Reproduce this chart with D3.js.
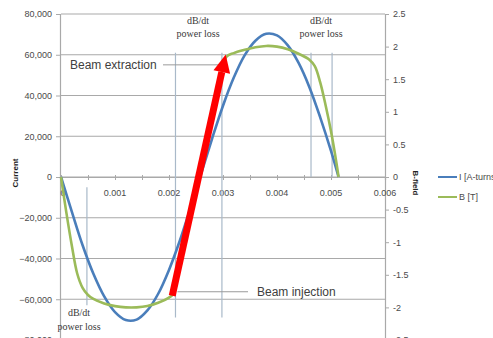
<!DOCTYPE html>
<html>
<head>
<meta charset="utf-8">
<script src="https://cdn.jsdelivr.net/npm/d3@7"></script>
<style>
  html, body { margin: 0; padding: 0; background: #fff; }
  svg { display: block; }
  text { font-family: "Liberation Sans", Arial, sans-serif; }
  text.serif { font-family: "Liberation Serif", "DejaVu Serif", serif; }
</style>
</head>
<body>
<svg id="chart" width="493" height="338"></svg>
<script>
// Magnet cycle: coil current I [A-turns] (left axis) and field B [T] (right axis) vs time [s]
const timeI = [0, 0.0002, 0.0004, 0.0006, 0.0008, 0.0010, 0.0012, 0.0014, 0.0016, 0.0018,
               0.0020, 0.0022, 0.0024, 0.0026, 0.0028, 0.0030, 0.0032, 0.0034, 0.0036,
               0.0038, 0.0040, 0.0042, 0.0044, 0.0046, 0.0048, 0.0050, 0.00514];
const current = [0, -17000, -33500, -47500, -58600, -66300, -70200, -70000, -65500, -57300,
                 -45600, -31300, -15000, 2000, 19000, 35000, 48800, 59700, 66900,
                 70300, 69500, 64600, 56000, 44100, 29300, 12800, 0];

const timeB = [0, 0.0001, 0.0002, 0.0003, 0.0004, 0.0005, 0.0006, 0.0008, 0.0010, 0.0012,
               0.0014, 0.0016, 0.0018, 0.0020, 0.00207, 0.0023, 0.0026, 0.0029, 0.00306,
               0.0032, 0.0034, 0.0036, 0.0038, 0.0040, 0.0042, 0.0044, 0.0046, 0.0047,
               0.0048, 0.0049, 0.0050, 0.0051, 0.00514];
const field = [0, -0.55, -1.05, -1.48, -1.70, -1.81, -1.87, -1.94, -1.98, -2.0,
               -2.0, -1.98, -1.93, -1.85, -1.8, -0.95, 0.15, 1.25, 1.84,
               1.9, 1.95, 1.99, 2.01, 2.0, 1.96, 1.89, 1.8, 1.7,
               1.45, 1.1, 0.7, 0.22, 0];

const xTicks = [0, 0.001, 0.002, 0.003, 0.004, 0.005, 0.006];
const xTickLabels = ["0", "0.001", "0.002", "0.003", "0.004", "0.005", "0.006"];
const iTicks = [-80000, -60000, -40000, -20000, 0, 20000, 40000, 60000, 80000];
const bTicks = [-2.5, -2, -1.5, -1, -0.5, 0, 0.5, 1, 1.5, 2, 2.5];

// Annotated instants: power-loss markers, injection and extraction
const lossMarksLow = [0.00048];                 // lines below the time axis
const lossMarksFull = [0.00212, 0.00298];        // full-height lines
const lossMarksHigh = [0.00463, 0.00502];        // lines above the time axis
const injection = { t: 0.00206, b: -1.82 };
const extraction = { t: 0.00305, b: 1.88 };

const svg = d3.select("#chart");
const x = d3.scaleLinear().domain([0, 0.006]).range([61, 385]);
const yI = d3.scaleLinear().domain([-80000, 80000]).range([340, 14]);
const yB = d3.scaleLinear().domain([-2.5, 2.5]).range([340, 14]);

const gridColor = "#a9a9a9";
const textColor = "#4a4a4a";
const markColor = "#a9b9c9";

// horizontal gridlines
svg.append("g").selectAll("line").data(iTicks).join("line")
  .attr("x1", x(0)).attr("x2", x(0.006))
  .attr("y1", d => yI(d)).attr("y2", d => yI(d))
  .attr("stroke", gridColor).attr("stroke-width", 1.2);

// left axis
const left = svg.append("g").attr("transform", `translate(${x(0) - 1},0)`)
  .call(d3.axisLeft(yI).tickValues(iTicks).tickSize(4).tickPadding(4)
    .tickFormat(d3.format(",")));
left.select(".domain").attr("stroke", gridColor).attr("stroke-width", 1.2);
left.selectAll(".tick line").attr("stroke", gridColor);
left.selectAll("text").attr("fill", textColor).style("font-size", "9px");

// right axis
const right = svg.append("g").attr("transform", `translate(${x(0.006)},0)`)
  .call(d3.axisRight(yB).tickValues(bTicks).tickSize(4).tickPadding(4)
    .tickFormat(d => String(d)));
right.select(".domain").attr("stroke", gridColor).attr("stroke-width", 1.2);
right.selectAll(".tick line").attr("stroke", gridColor);
right.selectAll("text").attr("fill", textColor).style("font-size", "9px");

// time axis through zero current
const bottom = svg.append("g").attr("transform", `translate(0,${yI(0)})`)
  .call(d3.axisBottom(x).tickValues(d3.range(0, 0.00601, 0.0005)).tickSize(3)
    .tickFormat(""));
bottom.select(".domain").attr("stroke", gridColor).attr("stroke-width", 1.2);
bottom.selectAll(".tick line").attr("stroke", gridColor).attr("y1", -2);
svg.append("g").selectAll("text").data(xTicks).join("text")
  .attr("x", (d, i) => x(d) + (i === 0 ? 2 : 0))
  .attr("y", yI(0) + 19)
  .attr("text-anchor", "middle")
  .attr("fill", textColor).style("font-size", "9px")
  .text((d, i) => xTickLabels[i]);

// axis titles
svg.append("text")
  .attr("transform", `translate(18,${yI(0) - 4}) rotate(-90)`)
  .attr("text-anchor", "middle").attr("fill", "#222")
  .style("font-size", "8px").style("font-weight", "bold")
  .text("Current");
svg.append("text")
  .attr("transform", `translate(413,${yB(0) + 6}) rotate(90)`)
  .attr("text-anchor", "middle").attr("fill", "#222")
  .style("font-size", "8px").style("font-weight", "bold")
  .text("B-field");

// dB/dt power-loss marker lines
const marks = svg.append("g").attr("stroke", markColor).attr("stroke-width", 1.2);
marks.selectAll(".low").data(lossMarksLow).join("line")
  .attr("x1", d => x(d)).attr("x2", d => x(d))
  .attr("y1", yI(-5000)).attr("y2", yI(-63000));
marks.selectAll(".full").data(lossMarksFull).join("line")
  .attr("x1", d => x(d)).attr("x2", d => x(d))
  .attr("y1", yI(61000)).attr("y2", yI(-69000));
marks.selectAll(".high").data(lossMarksHigh).join("line")
  .attr("x1", d => x(d)).attr("x2", d => x(d))
  .attr("y1", yI(61000)).attr("y2", yI(0));

// leader lines for injection / extraction
svg.append("line")
  .attr("x1", 163).attr("x2", x(lossMarksFull[1]))
  .attr("y1", yB(1.72)).attr("y2", yB(1.72))
  .attr("stroke", "#9a9a9a").attr("stroke-width", 1);
svg.append("line")
  .attr("x1", x(lossMarksFull[0]) + 2).attr("x2", 248)
  .attr("y1", yB(-1.76)).attr("y2", yB(-1.76))
  .attr("stroke", "#9a9a9a").attr("stroke-width", 1);

// series
const lineI = d3.line().x((d, i) => x(timeI[i])).y(d => yI(d)).curve(d3.curveCatmullRom.alpha(0.5));
const lineB = d3.line().x((d, i) => x(timeB[i])).y(d => yB(d)).curve(d3.curveCatmullRom.alpha(0.5));
svg.append("path").attr("d", lineI(current))
  .attr("fill", "none").attr("stroke", "#4a7ebb").attr("stroke-width", 2.6);
svg.append("path").attr("d", lineB(field))
  .attr("fill", "none").attr("stroke", "#9bbb59").attr("stroke-width", 2.6);

// ramp arrow from injection to extraction
const ax0 = x(injection.t), ay0 = yB(injection.b);
const ax1 = x(extraction.t), ay1 = yB(extraction.b);
const ang = Math.atan2(ay1 - ay0, ax1 - ax0);
const headLen = 18, headHalf = 8.5;
const bx = ax1 - headLen * Math.cos(ang), by = ay1 - headLen * Math.sin(ang);
svg.append("line")
  .attr("x1", ax0).attr("y1", ay0).attr("x2", bx).attr("y2", by)
  .attr("stroke", "#ff0000").attr("stroke-width", 7);
svg.append("path")
  .attr("d", `M${ax1},${ay1}L${bx + headHalf * Math.sin(ang)},${by - headHalf * Math.cos(ang)}` +
             `L${bx - headHalf * Math.sin(ang)},${by + headHalf * Math.cos(ang)}Z`)
  .attr("fill", "#ff0000");

// annotation texts
function lossLabel(cx, y1, y2) {
  const g = svg.append("g").attr("fill", "#3a3a3a").attr("text-anchor", "middle");
  g.append("text").attr("class", "serif").attr("x", cx).attr("y", y1)
    .style("font-size", "10px").text("dB/dt");
  g.append("text").attr("class", "serif").attr("x", cx).attr("y", y2)
    .style("font-size", "10px").text("power loss");
}
lossLabel(198, 24, 37);
lossLabel(321, 24, 37);
lossLabel(79, 316, 330);

svg.append("text").attr("x", 70).attr("y", yB(1.72) + 4)
  .attr("fill", "#404040").style("font-size", "12px").text("Beam extraction");
svg.append("text").attr("x", 257).attr("y", yB(-1.76) + 4)
  .attr("fill", "#404040").style("font-size", "12px").text("Beam injection");

// legend
const legend = svg.append("g").attr("transform", "translate(438,177)");
legend.append("line").attr("x1", 0).attr("x2", 19).attr("y1", 0).attr("y2", 0)
  .attr("stroke", "#4a7ebb").attr("stroke-width", 2);
legend.append("text").attr("x", 21).attr("y", 3).attr("fill", textColor)
  .style("font-size", "9px").text("I [A-turns]");
legend.append("line").attr("x1", 0).attr("x2", 19).attr("y1", 20).attr("y2", 20)
  .attr("stroke", "#9bbb59").attr("stroke-width", 2);
legend.append("text").attr("x", 21).attr("y", 23).attr("fill", textColor)
  .style("font-size", "9px").text("B [T]");
</script>
</body>
</html>
